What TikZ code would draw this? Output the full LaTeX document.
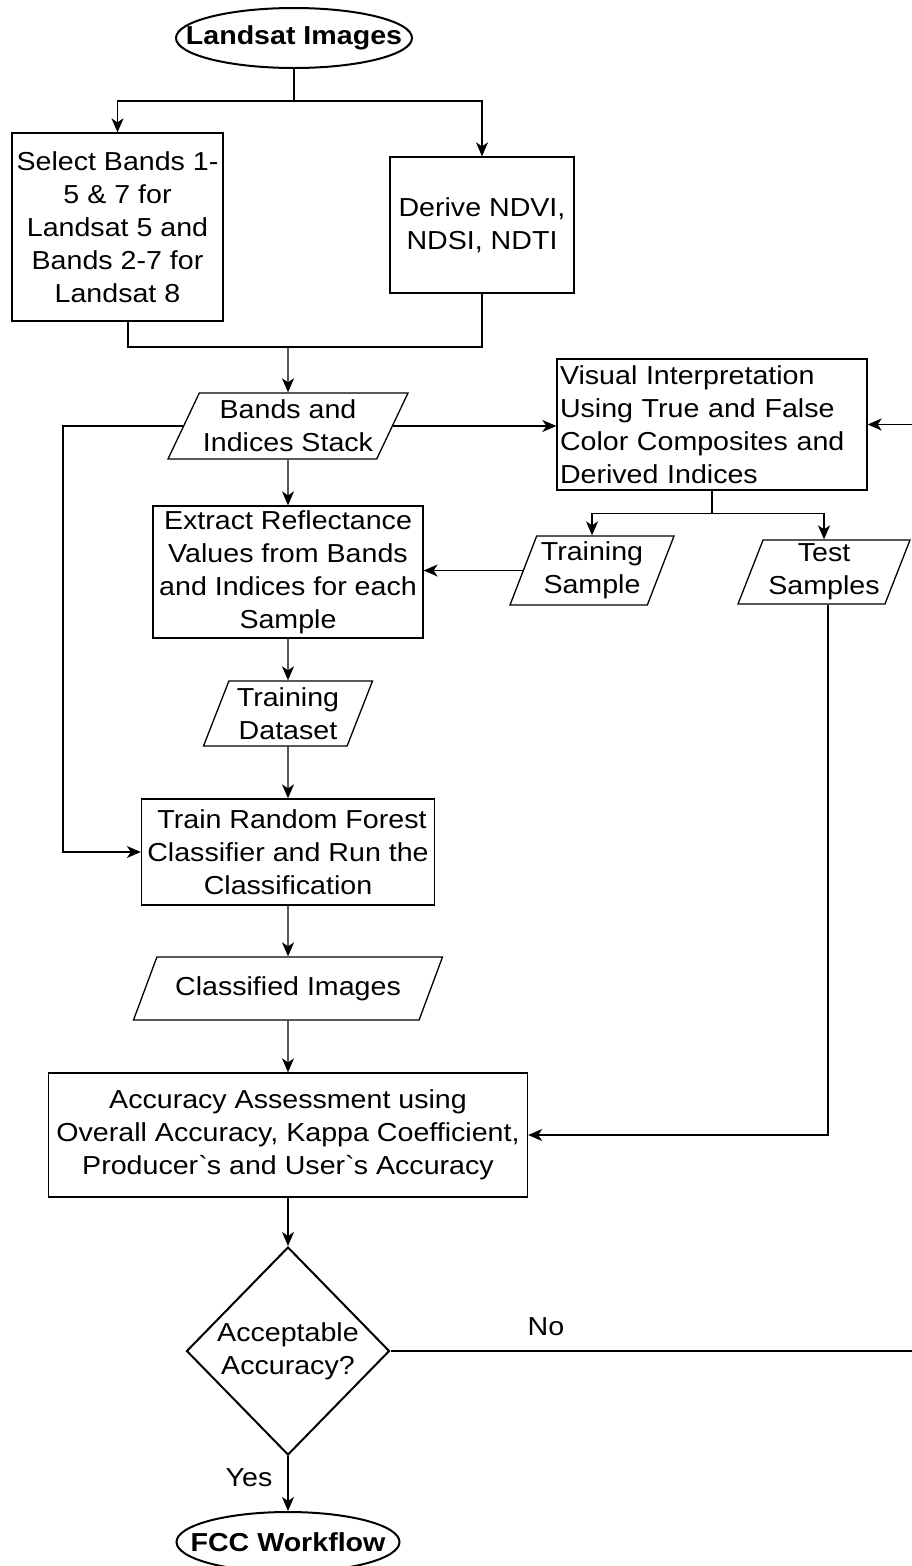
\documentclass[tikz,border=0pt]{standalone}
\usepackage{fontspec}
\setmainfont[FakeStretch=1.1]{Liberation Sans}
\usetikzlibrary{shapes.geometric,arrows.meta}
\begin{document}
\begin{tikzpicture}[x=1pt,y=-1pt,
  every node/.style={font=\fontsize{26}{33}\selectfont, align=center, inner sep=0pt},
  box/.style={draw, rectangle, line width=1.3pt},
  io/.style={draw, trapezium, trapezium stretches body, line width=1.3pt},
  term/.style={draw, ellipse, line width=2pt},
  termtext/.style={font=\fontsize{26}{33}\selectfont\bfseries},
  line/.style={line width=1.3pt},
  arr/.style={line width=1.3pt, -{Stealth[length=14pt,width=12pt,inset=4pt]}},
  lbl/.style={font=\fontsize{26}{33}\selectfont}
]
\useasboundingbox (0,0) rectangle (911,1566);

\node[term, minimum width=236, minimum height=60] (li) at (294,38) {};
\node[termtext] (lit) at (li) {Landsat Images};

\node[box, minimum width=211, minimum height=188] (b1) at (117.5,227)
  {Select Bands 1-\\5 \& 7 for\\Landsat 5 and\\Bands 2-7 for\\Landsat 8};
\node[box, minimum width=184, minimum height=136] (b2) at (482,225)
  {Derive NDVI,\\NDSI, NDTI};

\node[io, minimum width=240, minimum height=66, trapezium left angle=59, trapezium right angle=121] (bs) at (288,426)
  {Bands and\\Indices Stack};

\node[box, minimum width=310, minimum height=131, text width=304, align=left] (vi) at (712,424.5)
  {Visual Interpretation\\Using True and False\\Color Composites and\\Derived Indices};

\node[box, minimum width=270, minimum height=132] (ex) at (288,572)
  {Extract Reflectance\\Values from Bands\\and Indices for each\\Sample};

\node[io, minimum width=164, minimum height=69, trapezium left angle=65, trapezium right angle=115] (ts) at (592,570.5)
  {Training\\Sample};
\node[io, minimum width=172, minimum height=64, trapezium left angle=66, trapezium right angle=114] (tt) at (824,572)
  {Test\\Samples};

\node[io, minimum width=169, minimum height=65, trapezium left angle=64, trapezium right angle=116] (td) at (288,713.5)
  {Training\\Dataset};

\node[box, minimum width=293, minimum height=106] (rf) at (288,852)
  {\hspace*{8pt}Train Random Forest\\Classifier and Run the\\Classification};

\node[io, minimum width=309, minimum height=63, trapezium left angle=46, trapezium right angle=134] (ci) at (288,988.5)
  {Classified Images};

\node[box, minimum width=479, minimum height=124] (aa) at (288,1135)
  {Accuracy Assessment using\\Overall Accuracy, Kappa Coefficient,\\Producer\textasciigrave s and User\textasciigrave s Accuracy};

\node[draw, diamond, line width=2pt, minimum width=203, minimum height=208] (dec) at (288,1351) {};
\node (dect) at (dec) {Acceptable\\Accuracy?};

\node[term, minimum width=223, minimum height=60] (fcc) at (288,1542) {};
\node[termtext] (fcct) at (fcc) {FCC Workflow};

% connectors
\draw[line width=2pt] (li.south) -- ++(0,32) coordinate (sp);
\draw[arr] (sp) -| (b1.north);
\draw[arr] (sp) -| (b2.north);

\coordinate (m) at (288,347);
\draw[line] ([xshift=10.5pt]b1.south) |- (m);
\draw[line] (b2.south) |- (m);
\draw[arr] (m) -- (bs.north);

\draw[arr] (bs.east) -- (bs.east -| vi.west);
\draw[arr] (bs.south) -- (ex.north);

\coordinate (lx) at (63,0);
\draw[arr] (bs.west) -- (bs.west -| lx) |- (rf.west);

\draw[line] (vi.south) -- ++(0,23) coordinate (vs);
\draw[arr] (vs) -| (ts.north);
\draw[arr] (vs) -| (tt.north);

\draw[arr] (ts.west) -- (ts.west -| ex.east);
\draw[arr] ([xshift=4pt]tt.south) |- (aa.east);

\draw[arr] (ex.south) -- (td.north);
\draw[arr] (td.south) -- (rf.north);
\draw[arr] (rf.south) -- (ci.north);
\draw[arr] (ci.south) -- (aa.north);
\draw[arr] (aa.south) -- (dec.north);

\coordinate (rx) at (930,0);
\draw[arr] (dec.east) -- (dec.east -| rx) |- (vi.east);
\node[lbl] (no) at (546,1327) {No};

\draw[arr] (dec.south) -- (fcc.north);
\node[lbl] (yes) at (249,1478) {Yes};
\end{tikzpicture}
\end{document}
